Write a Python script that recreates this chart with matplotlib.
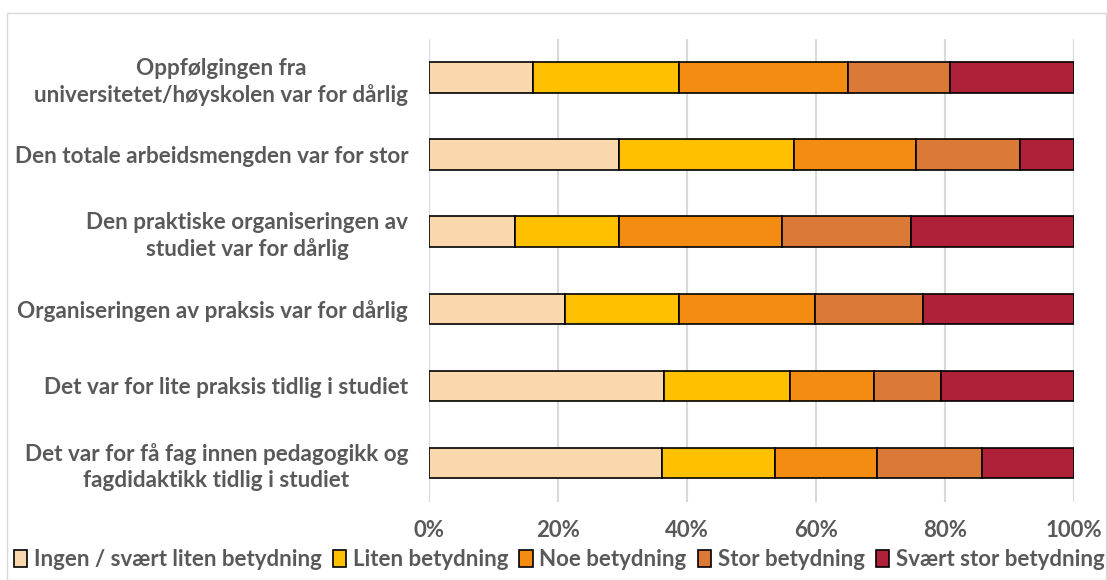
import matplotlib.pyplot as plt
import numpy as np
from matplotlib.patches import Rectangle

# Kategoriat ylhäältä alas
kategoriat = [
    'Oppfølgingen fra\nuniversitetet/høyskolen var for dårlig',
    'Den totale arbeidsmengden var for stor',
    'Den praktiske organiseringen av\nstudiet var for dårlig',
    'Organiseringen av praksis var for dårlig',
    'Det var for lite praksis tidlig i studiet',
    'Det var for få fag innen pedagogikk og\nfagdidaktikk tidlig i studiet',
]
serienimet = ['Ingen / svært liten betydning', 'Liten betydning', 'Noe betydning',
              'Stor betydning', 'Svært stor betydning']

ingen = [16.1, 29.4, 13.4, 21.1, 36.4, 36.1]
liten = [22.6, 27.2, 16.0, 17.7, 19.5, 17.5]
noe = [26.3, 18.9, 25.4, 21.0, 13.1, 15.8]
stor = [15.8, 16.2, 20.0, 16.8, 10.4, 16.4]
svaert = [19.2, 8.3, 25.2, 23.4, 20.6, 14.2]

varit = ['#FAD8AE', '#FFC000', '#F48C12', '#DB7A36', '#AF2139']
harmaa = '#595959'

plt.rcParams['font.family'] = ['Lato', 'DejaVu Sans']

fig = plt.figure(figsize=(11.07, 5.80), dpi=100)
ax = fig.add_axes([0.3875, 0.1353, 0.5827, 0.797])

y = np.arange(len(kategoriat))
vasen = np.zeros(len(kategoriat))
for arvot, nimi, vari in zip([ingen, liten, noe, stor, svaert], serienimet, varit):
    ax.barh(y, arvot, left=vasen, height=0.4, color=vari, edgecolor='black',
            linewidth=1.2, label=nimi, zorder=3)
    vasen = vasen + np.array(arvot)

ax.set_ylim(len(kategoriat) - 0.5, -0.5)
ax.set_xlim(0, 100)
ax.set_xticks(np.arange(0, 101, 20))
ax.set_xticklabels([f'{v}%' for v in range(0, 101, 20)], fontsize=16,
                   fontweight='bold', color=harmaa)
ax.set_yticks(y)
ax.set_yticklabels(kategoriat, fontsize=16.2, fontweight='bold', color=harmaa,
                   multialignment='center', linespacing=1.25)
ax.tick_params(axis='both', length=0)
ax.tick_params(axis='x', pad=13)
ax.tick_params(axis='y', pad=15)
ax.grid(axis='x', color='#D9D9D9', linewidth=1.5, zorder=0)
for s in ax.spines.values():
    s.set_visible(False)

fig.legend(loc='lower center', bbox_to_anchor=(0.505, -0.018), ncol=5, frameon=False,
           prop={'size': 16, 'weight': 'bold'}, labelcolor=harmaa,
           handlelength=0.6, handleheight=0.8, handletextpad=0.3, columnspacing=0.5)

# Kaavion reunus
fig.patches.append(Rectangle((0.006, 0.0), 0.993, 0.978, transform=fig.transFigure,
                             fill=False, edgecolor='#D9D9D9', linewidth=1))

plt.savefig('out.png', dpi=100)
